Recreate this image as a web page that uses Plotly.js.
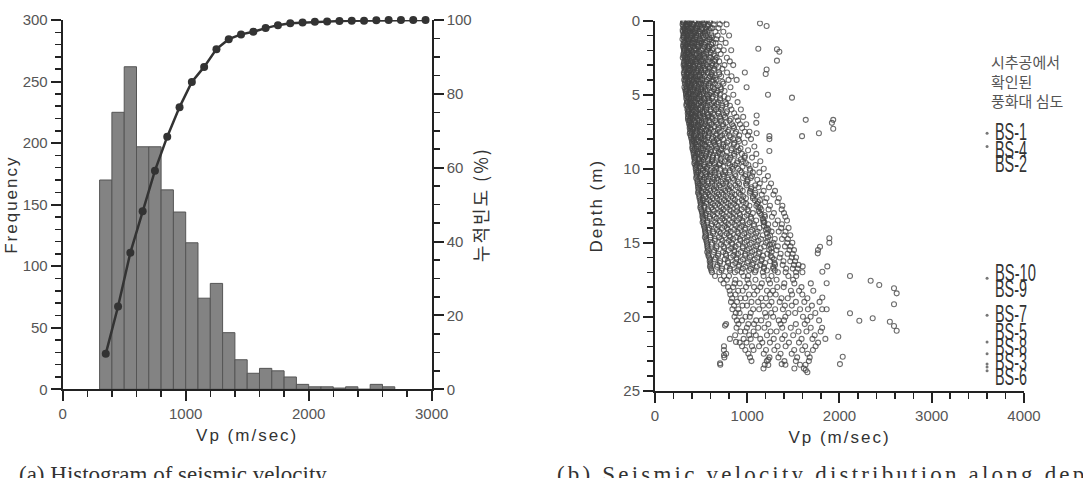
<!DOCTYPE html>
<html>
<head>
<meta charset="utf-8">
<script src="https://cdn.plot.ly/plotly-3.0.1.min.js"></script>
<style>
html,body{margin:0;padding:0;background:#fff;}
#chart{width:1083px;height:478px;}
.xtitle,.ytitle,.x2title,.y2title,.y3title{letter-spacing:2px;}
.annotation[data-index="2"] .annotation-text{letter-spacing:3.2px;}
</style>
</head>
<body>
<div id="chart"></div>
<script>
// ---------- (a) histogram ----------
const binCenters = [350,450,550,650,750,850,950,1050,1150,1250,1350,1450,1550,1650,1750,1850,1950,2050,2150,2250,2350,2450,2550,2650];
const binCounts  = [170,225,262,197,197,162,144,119,74,86,46,24,13,17,15,10,4,2,2,1,2,0,4,2];
const cumVp  = [350,450,550,650,750,850,950,1050,1150,1250,1350,1450,1550,1650,1750,1850,1950,2050,2150,2250,2350,2450,2550,2650,2750,2850,2950];
const cumPct = [9.6,22.4,37.0,48.2,59.2,68.4,76.4,83.2,87.3,92.1,94.8,96.1,96.8,97.8,98.6,99.1,99.3,99.5,99.6,99.7,99.8,99.8,99.9,100,100,100,100];

// ---------- (b) Vp vs depth (rows) ----------
const depthRows = [0,0.25,0.5,0.75,1,1.25,1.5,1.75,2,2.25,2.5,2.75,3,3.25,3.5,3.75,4,4.25,4.5,4.75,5,5.25,5.5,5.75,6,6.25,6.5,6.75,7,7.25,7.5,7.75,8,8.25,8.5,8.75,9,9.25,9.5,9.75,10,10.25,10.5,10.75,11,11.25,11.5,11.75,12,12.25,12.5,12.75,13,13.25,13.5,13.75,14,14.25,14.5,14.75,15,15.25,15.5,15.75,16,16.25,16.5,16.75,17,17.25,17.5,17.75,18,18.25,18.5,18.75,19,19.25,19.5,19.75,20,20.25,20.5,20.75,21,21.25,21.5,21.75,22,22.25,22.5,22.75,23,23.25,23.5,23.75];
const vpRows = [
[304,317,349,358,392,427,441,483,506,562,589,648,731],
[299,336,344,371,403,418,466,497,531,575,637,702,776],
[311,322,365,387,395,439,454,512,548,603,622,688],
[302,329,340,378,411,432,475,489,540,566,655,741],
[307,313,352,384,401,447,468,521,553,611,679,803],
[298,341,359,370,419,436,488,517,584,597,664,719],
[312,326,355,394,408,426,479,504,545,628,657,766],
[305,333,362,381,414,458,473,534,569,592,701],
[316,320,347,389,423,441,496,509,571,619,684,745,826],
[308,337,368,376,402,450,482,527,556,636,712],
[301,328,351,397,416,462,478,541,587,603,668,779],
[318,342,357,386,434,449,501,523,590,647,696,811],
[310,324,366,379,413,437,486,518,560,622,659,753,848],
[319,333,361,399,427,471,494,546,581,643,730],
[313,347,355,388,421,446,505,529,572,615,694,781],
[322,338,374,392,440,459,487,538,597,624,717,829],
[316,329,369,401,418,452,493,511,566,634,666,797],
[324,351,363,396,433,474,498,552,588,651,742],
[319,345,377,389,429,466,503,535,601,627,708,818],
[331,340,382,411,447,468,522,547,613,679,754],
[336,358,371,409,438,481,510,563,590,662,703,849],
[339,366,392,417,459,477,534,576,618,705,790],
[347,354,386,428,446,496,525,587,640,682,764,895],
[341,372,399,421,463,502,549,571,644,731,812],
[351,369,408,434,471,493,557,604,662,716,829,931],
[355,380,397,445,484,521,563,629,687,772,858],
[358,387,419,440,492,536,577,614,705,761,883,956],
[362,376,425,459,481,549,588,652,719,808,900],
[371,395,414,467,505,541,610,673,740,835,921,989],
[376,403,436,462,519,572,601,694,763,857,944],
[381,398,449,486,511,583,636,702,789,880,973,1024],
[387,421,444,497,540,576,659,727,806,913,1008],
[396,415,452,503,538,617,672,739,848,903,1041],
[402,431,489,511,582,634,693,781,859,972],
[407,452,471,547,566,659,741,768,891,1077],
[411,426,498,523,609,648,715,826,906,1009],
[419,461,482,556,591,702,733,857,942,1098],
[424,437,511,539,627,671,788,819,971,1052],
[432,481,502,574,618,724,757,894,953,1142],
[436,453,529,588,645,698,811,866,1012,1089],
[441,497,518,561,667,709,842,901,1027,1179],
[447,468,542,617,653,763,806,939,1061,1131],
[452,489,561,597,701,748,873,978,1052,1224],
[459,511,536,643,684,794,857,1003,1109,1187],
[463,482,581,619,736,771,912,987,1136,1258],
[467,526,563,667,712,828,893,1047,1121,1236],
[473,503,602,648,763,809,951,1032,1178,1301],
[478,544,583,691,741,866,928,1084,1157,1284],
[483,517,627,672,793,847,986,1061,1209,1342],
[491,559,604,718,774,903,959,1117,1193,1329],
[496,533,649,701,822,881,1024,1098,1246,1381],
[501,574,628,742,806,938,1002,1154,1231,1373],
[511,551,676,727,853,914,1061,1137,1289,1398],
[514,593,647,771,835,972,1038,1192,1268,1413],
[526,568,702,753,886,948,1097,1175,1331,1431],
[529,614,671,797,862,1007,1074,1227,1303,1376],
[539,586,726,779,916,981,1133,1212,1368,1448],
[544,633,694,822,891,1038,1112,1264,1341,1415],
[551,602,751,806,944,1014,1169,1247,1402,1467],
[555,651,718,849,921,1067,1149,1298,1377,1441],
[563,621,773,833,971,1046,1203,1283,1433,1489],
[568,669,742,874,952,1096,1184,1331,1409,1469],
[576,641,797,859,999,1078,1238,1317,1458,1507],
[579,688,766,901,981,1124,1217,1362,1437,1493],
[588,659,821,884,1027,1108,1269,1351,1483,1529],
[593,707,789,928,1009,1153,1249,1393,1466,1518],
[601,677,843,912,1056,1139,1301,1384,1506,1556],
[608,726,812,953,1038,1181,1281,1422,1493,1547],
[619,697,866,939,1084,1169,1332,1416,1529,1598],
[651,748,802,958,1011,1177,1263,1446,1531],
[713,779,871,1002,1089,1231,1318,1497],
[744,863,919,1016,1158,1247,1402,1511,1689],
[792,848,987,1074,1142,1326,1395,1588],
[809,902,951,1108,1214,1279,1473,1562,1716],
[817,873,1019,1076,1247,1309,1486,1597],
[836,927,979,1152,1203,1371,1439,1652],
[824,889,1046,1118,1263,1352,1527,1619,1784],
[857,948,997,1171,1236,1408,1483,1701],
[839,903,1064,1129,1302,1387,1573,1658,1812],
[876,917,1038,1193,1259,1446,1519,1738],
[862,981,1027,1206,1281,1413,1604,1687],
[887,943,1097,1151,1342,1398,1651,1779],
[771,905,1012,1073,1229,1361,1527,1623],
[884,996,1118,1187,1379,1472,1688,1812],
[926,978,1069,1253,1318,1556,1642,1796],
[869,1021,1093,1214,1407,1498,1731],
[812,961,1037,1141,1287,1379,1589,1707,1847],
[918,992,1163,1246,1452,1561,1768],
[944,1051,1128,1329,1416,1628,1741],
[747,979,1068,1203,1294,1509,1597,1712],
[771,1012,1179,1361,1482,1653],
[752,1030,1241,1338,1541,1677],
[1046,1212,1403,1527,1668],
[708,1189,1414,1572,1632],
[1176,1511,1614],
[1652]
];
// denser core of the cloud, read between the rows above
const coreDepthRows = [0.125,0.375,0.625,0.875,1.125,1.375,1.625,1.875,2.125,2.375,2.625,2.875,3.125,3.375,3.625,3.875,4.125,4.375,4.625,4.875,5.125,5.375,5.625,5.875,6.125,6.375,6.625,6.875,7.125,7.375,7.625,7.875,8.125,8.375,8.625,8.875,9.125,9.375,9.625,9.875,10.125,10.375,10.625,10.875,11.125,11.375,11.625,11.875,12.125,12.375,12.625,12.875,13.125,13.375,13.625,13.875,14.125,14.375,14.625,14.875,15.125,15.375,15.625,15.875,16.125,16.375,16.625,16.875];
const coreVpRows = [
[303,311,352,369,374,428,517,533,596],
[306,338,347,391,455,462,488,571],
[300,322,327,364,402,441,509,552,587],
[315,331,386,398,417,473,494,541],
[309,313,342,378,436,451,527,590,618],
[318,356,361,409,422,486,503,566],
[306,329,345,393,457,472,538,611],
[312,321,367,374,431,445,519,583,627],
[315,349,358,403,412,479,556,602],
[310,326,384,397,468,491,534,649],
[322,337,353,419,438,452,513,577,655],
[313,361,372,389,447,506,529,621],
[319,334,346,415,426,483,571,594,688],
[325,368,381,407,462,498,547,636],
[316,342,357,399,441,477,523,609,697],
[331,347,389,421,435,512,586,652],
[327,355,364,418,473,489,558,624,731],
[338,372,393,430,452,531,579,683],
[329,346,381,406,467,503,544,641,718],
[335,364,377,444,459,526,602,669],
[343,351,398,427,481,495,573,627,752],
[349,378,412,439,508,537,589,706],
[341,369,384,451,473,529,614,668,774],
[357,391,405,438,492,556,637,723],
[359,367,418,446,511,538,603,689,781],
[364,399,428,467,486,574,641,746],
[358,382,409,459,524,547,622,708,822],
[371,393,436,478,505,589,663,771],
[379,388,447,471,531,568,642,735,849],
[384,412,455,493,554,606,681,797],
[377,401,438,509,537,593,667,758,871],
[392,425,467,488,573,629,708,819],
[403,417,476,522,551,638,689,796,912],
[409,441,468,537,596,653,742,855],
[404,432,497,518,583,671,721,833,927],
[418,459,485,561,607,692,779,884],
[427,445,503,548,629,673,768,862,974],
[431,478,521,576,618,712,809,931],
[426,462,494,589,647,703,794,889,985],
[442,487,538,567,663,741,837,948],
[448,469,521,603,642,758,812,923,1032],
[453,499,557,596,689,737,866,981],
[446,482,536,628,671,784,843,954,1038],
[461,517,568,619,713,772,897,1002],
[468,491,553,647,698,809,871,993,1086],
[472,529,589,638,741,797,924,1041],
[466,508,571,672,724,836,908,1027,1089],
[481,547,603,661,769,828,957,1063],
[493,521,588,697,752,867,941,1082,1137],
[498,559,626,683,794,856,989,1108],
[491,536,612,719,778,893,967,1121,1139],
[507,578,641,706,823,887,1014,1124],
[518,546,629,744,806,921,998,1153,1188],
[522,593,668,731,852,913,1043,1169],
[516,567,652,769,834,948,1026,1176,1186],
[531,611,689,753,879,941,1072,1181],
[542,577,671,792,858,976,1053,1201,1229],
[548,629,712,778,903,968,1097,1213],
[541,601,693,816,881,1002,1084,1226],
[556,648,733,801,927,994,1122,1218],
[567,612,716,839,906,1029,1109,1247,1268],
[571,663,752,826,951,1018,1146,1259],
[566,637,738,862,931,1054,1133,1264],
[579,682,771,849,976,1043,1171,1255],
[597,648,757,884,953,1081,1158,1289],
[602,703,793,871,998,1067,1193,1296],
[596,672,778,906,979,1104,1182,1283],
[611,721,812,893,1021,1092,1214,1299]
];
const outVp    = [1138,1210,1120,1322,1348,1322,1210,1200,974,885,993,1225,1485,1102,1098,1102,1240,1240,1240,1634,1918,1932,1932,1594,1777,1890,1890,1789,1767,1764,1601,1868,1814,2114,2338,2431,2591,2620,2591,1861,1814,1861,2114,2215,2360,2546,2591,2620,1987,2035,2005,1634,759,748,748,705,878,1228,1228,1373];
const outDepth = [0.18,0.36,1.9,1.93,2.1,2.7,3.3,3.6,3.5,4.0,4.5,5.0,5.2,6.4,6.9,7.6,7.8,8.0,8.8,6.7,6.9,6.7,7.3,7.8,7.6,14.7,15.0,15.27,15.49,15.72,16.6,16.6,16.96,17.25,17.57,17.86,18.08,18.42,19.16,17.74,18.7,19.5,19.77,20.27,20.1,20.34,20.63,20.95,21.35,22.7,23.2,23.6,20.6,22.0,22.6,23.15,21.7,23.26,22.9,23.2];

// borehole weathering depths
const bsDotDepth = [7.6,8.5,17.4,19.9,21.7,22.5,23.2,23.4,23.65];
const bsNames  = ['BS-1','BS-4','BS-2','BS-10','BS-9','BS-7','BS-5','BS-8','BS-3','BS-6'];
const bsLabelDepth = [7.54,8.74,9.68,17.05,18.13,19.82,21.01,22.03,23.04,24.05];

const sx = [], sy = [];
depthRows.forEach((d,i)=>{ vpRows[i].forEach(v=>{ sx.push(v); sy.push(d); }); });
coreDepthRows.forEach((d,i)=>{ coreVpRows[i].forEach(v=>{ sx.push(v); sy.push(d); }); });
outVp.forEach((v,i)=>{ sx.push(v); sy.push(outDepth[i]); });

const AX = '#222', TL = '#555';
const tickFont = {family:'Liberation Sans, Arial, sans-serif', size:15, color:TL};
const titleFont = {family:'Liberation Sans, Arial, sans-serif', size:17, color:'#333'};
function axisBase(extra){
  return Object.assign({
    showline:true, linecolor:AX, linewidth:2, showgrid:false, zeroline:false,
    ticks:'outside', ticklen:10, tickwidth:2, tickcolor:AX, tickfont:tickFont,
    autorange:false, fixedrange:true
  }, extra);
}

const traces = [
  {type:'bar', x:binCenters, y:binCounts, width:100, xaxis:'x', yaxis:'y',
   marker:{color:'#838383', line:{color:'#555', width:1}}, hoverinfo:'x+y'},
  {type:'scatter', mode:'lines+markers', x:cumVp, y:cumPct, xaxis:'x', yaxis:'y2',
   line:{color:'#333', width:2.5}, marker:{size:8, color:'#333'}, cliponaxis:false},
  {type:'scatter', mode:'markers', x:sx, y:sy, xaxis:'x2', yaxis:'y3',
   marker:{symbol:'circle-open', size:5, color:'#444', opacity:0.78, line:{width:1.1}}},
  {type:'scatter', mode:'markers', x:bsDotDepth.map(()=>3600), y:bsDotDepth, xaxis:'x2', yaxis:'y3',
   marker:{size:3, color:'#777'}, cliponaxis:false}
];

const annotations = [
  {xref:'x2', yref:'y3', x:3625, y:4.05, xanchor:'left', yanchor:'middle', showarrow:false, align:'left',
   text:'시추공에서<br>확인된<br>풍화대 심도', font:{family:'Noto Sans CJK KR, sans-serif', size:15, color:'#555'}},
  {xref:'paper', yref:'paper', x:17/1083, y:0.037, xanchor:'left', yanchor:'top', showarrow:false, align:'left',
   text:'(a) Histogram of seismic velocity', font:{family:'Liberation Serif, DejaVu Serif, serif', size:23, color:'#333'}},
  {xref:'paper', yref:'paper', x:555/1083, y:0.037, xanchor:'left', yanchor:'top', showarrow:false, align:'left',
   text:'(b) Seismic velocity distribution along depth', font:{family:'Liberation Serif, DejaVu Serif, serif', size:23, color:'#333'}}
];
bsNames.forEach((n,i)=>annotations.push({
  xref:'x2', yref:'y3', x:3665, y:bsLabelDepth[i], xanchor:'left', yanchor:'middle', showarrow:false, align:'left',
  text:n, font:{family:'Liberation Sans, Arial, sans-serif', size:23, color:'#333'}
}));

const layout = {
  width:1083, height:478, margin:{l:0,r:0,t:0,b:0},
  paper_bgcolor:'#fff', plot_bgcolor:'rgba(0,0,0,0)', showlegend:false,
  font:{family:'Liberation Sans, Arial, sans-serif', color:'#444'},
  bargap:0,
  xaxis: axisBase({domain:[0.0579,0.3986], anchor:'y', range:[0,3000], tick0:0, dtick:1000,
    minor:{dtick:200, ticks:'outside', ticklen:6, tickwidth:1.5, tickcolor:AX, showgrid:false},
    title:{text:'Vp (m/sec)', font:titleFont, standoff:8}}),
  yaxis: axisBase({domain:[0.1856,0.9582], anchor:'x', range:[0,300], tick0:0, dtick:50,
    minor:{dtick:10, ticks:'outside', ticklen:6, tickwidth:1.5, tickcolor:AX, showgrid:false},
    title:{text:'Frequency', font:titleFont}}),
  yaxis2: axisBase({overlaying:'y', side:'right', anchor:'x', range:[0,100], tick0:0, dtick:20,
    minor:{dtick:5, ticks:'outside', ticklen:6, tickwidth:1.5, tickcolor:AX, showgrid:false},
    title:{text:'누적빈도 (%)', font:{family:'Noto Sans CJK KR, sans-serif', size:18, color:'#333'}}}),
  xaxis2: axisBase({domain:[0.6048,0.9455], anchor:'y3', range:[0,4000], tick0:0, dtick:1000,
    minor:{dtick:200, ticks:'outside', ticklen:6, tickwidth:1.5, tickcolor:AX, showgrid:false},
    title:{text:'Vp (m/sec)', font:titleFont, standoff:8}}),
  yaxis3: axisBase({domain:[0.1826,0.9567], anchor:'x2', range:[25,0], tick0:0, dtick:5,
    minor:{dtick:1, ticks:'outside', ticklen:6, tickwidth:1.5, tickcolor:AX, showgrid:false},
    title:{text:'Depth (m)', font:titleFont, standoff:16}}),
  annotations: annotations
};

Plotly.newPlot('chart', traces, layout, {displayModeBar:false, staticPlot:true}).then(()=>{
  // condense the borehole labels like the narrow face in the original
  document.querySelectorAll('#chart .annotation .annotation-text').forEach(t=>{
    const s = t.textContent;
    if (/^BS-/.test(s)) {
      t.setAttribute('textLength', String(9*s.length - 4));
      t.setAttribute('lengthAdjust', 'spacingAndGlyphs');
    }
  });
});
</script>
</body>
</html>
